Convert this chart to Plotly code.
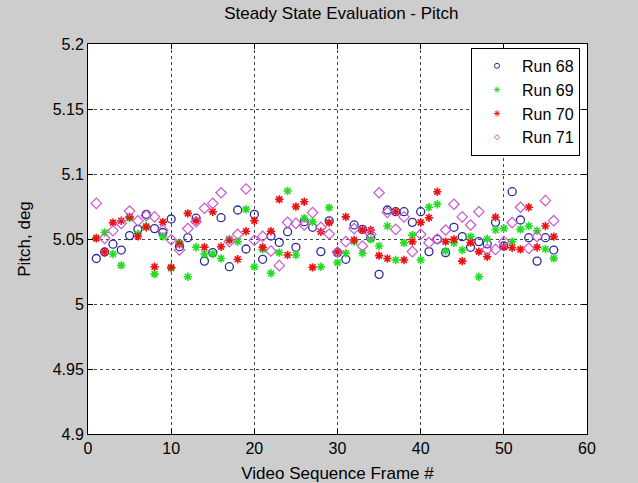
import plotly.graph_objects as go

frames = list(range(1, 57))

run68 = [5.035, 5.040, 5.046, 5.0415, 5.0526, 5.0574, 5.069, 5.058, 5.055, 5.0654,
         5.044, 5.051, 5.066, 5.033, 5.0395, 5.0664, 5.0287, 5.0723, 5.0423, 5.069,
         5.0344, 5.0523, 5.0474, 5.0556, 5.0436, 5.0633, 5.059, 5.0403, 5.064, 5.0395,
         5.0344, 5.0608, 5.0574, 5.051, 5.0228, 5.0723, 5.071, 5.071, 5.0628, 5.071,
         5.0403, 5.0497, 5.0395, 5.059, 5.0518, 5.0436, 5.048, 5.0462, 5.0628, 5.0446,
         5.0864, 5.0646, 5.051, 5.033, 5.051, 5.0415]

run69 = [5.051, 5.055, 5.0385, 5.0297, 5.066, 5.054, 5.060, 5.023, 5.052, 5.0275,
         5.047, 5.021, 5.0436, 5.0385, 5.0385, 5.035, 5.050, 5.048, 5.0728, 5.0287,
         5.042, 5.0236, 5.0395, 5.0869, 5.0377, 5.066, 5.0633, 5.0287, 5.0741, 5.0318,
         5.039, 5.048, 5.039, 5.0497, 5.0446, 5.060, 5.0338, 5.047, 5.053, 5.0338,
         5.0744, 5.0767, 5.0408, 5.047, 5.0415, 5.0518, 5.021, 5.050, 5.0569, 5.0582,
         5.048, 5.0574, 5.060, 5.0564, 5.0423, 5.0351]

run70 = [5.0505, 5.040, 5.0626, 5.064, 5.067, 5.052, 5.059, 5.0287, 5.063, 5.0282,
         5.046, 5.0697, 5.064, 5.0436, 5.071, 5.044, 5.049, 5.0344, 5.056, 5.064,
         5.0436, 5.056, 5.0805, 5.0377, 5.0749, 5.0787, 5.0282, 5.0556, 5.0626, 5.040,
         5.067, 5.0492, 5.057, 5.0569, 5.0372, 5.035, 5.071, 5.0338, 5.048, 5.0628,
         5.0664, 5.0864, 5.048, 5.0497, 5.033, 5.0472, 5.0403, 5.0364, 5.0667, 5.044,
         5.0433, 5.042, 5.0744, 5.0436, 5.060, 5.0518]

run71 = [5.0774, 5.0505, 5.0564, 5.062, 5.0715, 5.064, 5.068, 5.067, 5.057, 5.0495,
         5.0415, 5.058, 5.0633, 5.0736, 5.0774, 5.0856, 5.048, 5.0536, 5.0885, 5.049,
         5.052, 5.0408, 5.0295, 5.0628, 5.062, 5.0608, 5.0703, 5.059, 5.0538, 5.040,
         5.048, 5.058, 5.0446, 5.0536, 5.0856, 5.0705, 5.0574, 5.067, 5.0403, 5.0536,
         5.0472, 5.050, 5.0569, 5.0767, 5.067, 5.0608, 5.071, 5.042, 5.042, 5.048,
         5.0626, 5.0744, 5.0428, 5.0518, 5.0795, 5.0641]

run_names = ["Run 68", "Run 69", "Run 70", "Run 71"]
x_ticks = [0, 10, 20, 30, 40, 50, 60]
y_ticks = [4.9, 4.95, 5.0, 5.05, 5.1, 5.15, 5.2]
y_ticklabels = ["4.9", "4.95", "5", "5.05", "5.1", "5.15", "5.2"]

FONT = "Liberation Sans, Arial, sans-serif"

styles = [
    dict(symbol="circle-open", size=8, color="#2a2a9e", lw=1.3, lsize=5),
    dict(symbol="asterisk-open", size=7, color="#22dd22", lw=1.6, lsize=5),
    dict(symbol="asterisk-open", size=7, color="#ee1111", lw=1.6, lsize=5),
    dict(symbol="diamond-open", size=8, color="#cc55cc", lw=1.2, lsize=4),
]

fig = go.Figure()
for name, ys, st in zip(run_names, [run68, run69, run70, run71], styles):
    fig.add_trace(go.Scatter(x=frames, y=ys, mode="markers", name=name, showlegend=False,
                             marker=dict(symbol=st["symbol"], size=st["size"], color=st["color"],
                                         line=dict(width=st["lw"], color=st["color"]))))
# legend entries (smaller markers, as in the reference legend)
for name, st in zip(run_names, styles):
    fig.add_trace(go.Scatter(x=[None], y=[None], mode="markers", name=name, showlegend=True,
                             marker=dict(symbol=st["symbol"], size=st["lsize"], color=st["color"],
                                         line=dict(width=1, color=st["color"]))))

axis_common = dict(showline=True, linecolor="black", linewidth=1, mirror="allticks",
                   ticks="inside", ticklen=5, tickcolor="black", automargin=False,
                   showgrid=True, gridcolor="#444444", gridwidth=1, griddash="3px,3px",
                   zeroline=False, tickfont=dict(family=FONT, size=16, color="black"))

fig.update_xaxes(range=[0, 60], tickvals=x_ticks,
                 title=dict(text="Video Sequence Frame #", font=dict(family=FONT, size=17, color="black"), standoff=10),
                 **axis_common)
fig.update_yaxes(range=[4.9, 5.2], tickvals=y_ticks, ticktext=y_ticklabels,
                 title=dict(text="Pitch, deg", font=dict(family=FONT, size=17, color="black"), standoff=17),
                 **axis_common)

fig.update_layout(
    width=638, height=483,
    margin=dict(l=88, r=51, t=44, b=49),
    paper_bgcolor="#cdcdcd", plot_bgcolor="white",
    title=dict(text="Steady State Evaluation - Pitch", x=0.535, xanchor="center", y=0.972, yanchor="middle",
               font=dict(family=FONT, size=17, color="black")),
    legend=dict(x=0.986, xanchor="right", y=0.99, yanchor="top", bgcolor="white",
                bordercolor="black", borderwidth=1, font=dict(family=FONT, size=16, color="black"),
                itemwidth=40),
    showlegend=True,
)

fig.write_html("out.html")
